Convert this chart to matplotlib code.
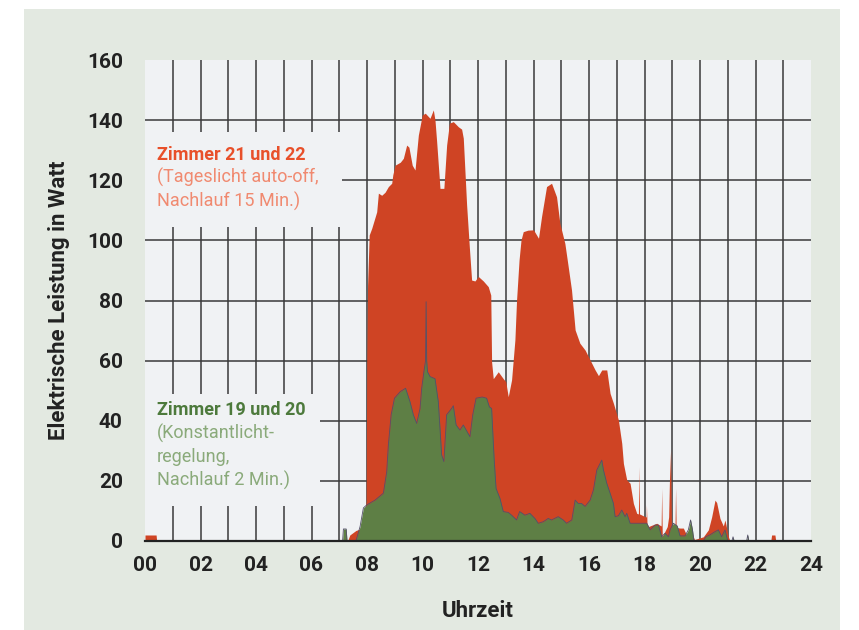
import matplotlib.pyplot as plt
from matplotlib.patches import Rectangle

# Zimmer 21 und 22 (Tageslicht auto-off, Nachlauf 15 Min.)
red_h = [0.0, 0.4, 0.42, 7.3, 7.38, 7.6, 7.75, 7.87, 7.97, 7.99, 8.02, 8.08, 8.17,
         8.35, 8.41, 8.53, 8.65, 8.77, 8.89, 8.93, 9.01, 9.2, 9.31, 9.43, 9.51, 9.63,
         9.73, 9.85, 9.99, 10.1, 10.27, 10.39, 10.45, 10.51, 10.63, 10.77, 10.87, 10.97,
         11.11, 11.29, 11.41, 11.47, 11.59, 11.69, 11.77, 11.89, 12.01, 12.19, 12.37,
         12.46, 12.49, 12.55, 12.73, 12.91, 13.0, 13.09, 13.21, 13.33, 13.39, 13.48,
         13.55, 13.63, 13.8, 14.0, 14.18, 14.29, 14.47, 14.65, 14.83, 14.95, 15.13,
         15.25, 15.37, 15.5, 15.67, 15.86, 16.04, 16.22, 16.34, 16.46, 16.64, 16.76,
         16.88, 17.06, 17.18, 17.24, 17.36, 17.48, 17.6, 17.72, 17.78, 17.8, 17.82,
         18.02, 18.06, 18.07, 18.09, 18.14, 18.44, 18.6, 18.62, 18.64, 18.82, 18.87,
         18.9, 18.94, 18.97, 19.08, 19.1, 19.12, 19.14, 19.28, 19.4, 19.5, 19.7, 19.8,
         20.12, 20.3, 20.42, 20.54, 20.6, 20.72, 20.84, 20.9, 21.02, 21.08, 22.55,
         22.58, 22.7, 22.73, 24.0]
red_w = [2, 2, 0, 0, 2, 3.5, 4, 8, 13, 60, 85, 101.8, 104,
         109.5, 115.7, 115, 116, 117.9, 119, 121.8, 125, 126, 127.3, 131.7, 131, 125,
         123.4, 135, 141.7, 142.3, 140.6, 143.4, 140, 132.9, 117.3, 117.3, 131.7, 139,
         139.5, 137.8, 137, 134, 111.8, 97.5, 86.8, 86.5, 88, 86.5, 84.6,
         81.8, 59.6, 54, 56.3, 54, 53, 48, 53.6, 66.9, 80.2, 93.5,
         100.1, 102.9, 103.4, 103.5, 100.7, 107.9, 117.9, 119, 114.5, 105.7, 99,
         91.3, 83.5, 70.2, 65.8, 63.5, 60.2, 56.9, 55, 56.9, 56.9, 49.1,
         45.8, 40.2, 32.5, 25.8, 20.3, 19.2, 12.5, 9.2, 9, 24.7, 9,
         8.1, 8, 12, 6, 4.8, 5.9, 5, 17.5, 1.4, 4.8, 8,
         20.3, 30.3, 5, 4.8, 5, 17.6, 4.5, 4.3, 4.3, 2.3, 3, 0.5,
         1.4, 3.7, 8, 13.6, 12.8, 7.5, 5, 7, 1.5, 0, 0,
         2, 2, 0, 0]

# Zimmer 19 und 20 (Konstantlichtregelung, Nachlauf 2 Min.)
green_h = [0.0, 7.12, 7.15, 7.25, 7.28, 7.6, 7.75, 7.87, 7.99, 8.29, 8.59, 8.71, 8.77,
           8.87, 8.99, 9.2, 9.39, 9.55, 9.67, 9.79, 9.91, 9.97, 10.05, 10.11, 10.13,
           10.15, 10.18, 10.27, 10.45, 10.57, 10.69, 10.77, 10.87, 11.05, 11.11, 11.21,
           11.35, 11.47, 11.71, 11.81, 11.93, 12.15, 12.31, 12.41, 12.49, 12.58, 12.65,
           12.79, 12.91, 13.09, 13.21, 13.39, 13.5, 13.69, 13.87, 14.05, 14.17, 14.35,
           14.53, 14.65, 14.89, 15.07, 15.19, 15.38, 15.5, 15.61, 15.73, 15.86, 16.04,
           16.16, 16.28, 16.4, 16.46, 16.52, 16.64, 16.76, 16.88, 16.94, 17.06, 17.18,
           17.3, 17.36, 17.48, 17.78, 18.08, 18.2, 18.38, 18.5, 18.62, 18.74, 18.86,
           18.92, 19.04, 19.18, 19.28, 19.46, 19.58, 19.66, 19.73, 19.78, 20.12, 20.21,
           20.35, 20.54, 20.66, 20.78, 20.9, 21.0, 21.15, 21.19, 21.23, 21.68, 21.72,
           21.76, 24.0]
green_w = [0, 0, 4, 4, 0, 0, 4.8, 11, 12, 13.6, 15.9, 23, 32,
           42, 47.5, 49.7, 50.8, 46.3, 42, 39.1, 44, 50.8, 56.3, 60, 79.6,
           60, 56.3, 54.7, 54, 46.3, 28.6, 26.4, 42, 44.1, 45, 38.6,
           36.9, 38.6, 34.7, 42, 47.5, 47.9, 47.5, 44.6, 44.1, 27.5, 17.5,
           14.2, 9.8, 9.5, 8.6, 7, 9.8, 8.6, 9.2, 7.5, 5.9, 6.4,
           7.5, 7, 8.1, 7, 5.9, 7, 13.6, 12.5, 12.5, 11.5, 13.6,
           17, 23.6, 25.8, 26.9, 23.6, 19.2, 15.9, 12.5, 8.1, 8.4, 10.3,
           8.1, 9.2, 5.9, 5.9, 5.9, 3.7, 5.3, 5.3, 1.4, 2.6, 1.4,
           3.7, 5.9, 5, 1.7, 1.7, 3.7, 7, 3.7, 0, 0, 1.4,
           2, 3.1, 3.7, 1.4, 3.7, 0, 0, 1.4, 0, 0, 2,
           0, 0]

hour_ticks = list(range(0, 25, 2))
hour_labels = ['%02d' % h for h in hour_ticks]
watt_ticks = list(range(0, 161, 20))

bg_fig = '#e3e9e1'
bg_ax = '#f0f2f4'
red = '#cf4424'
green = '#5e7f45'

plt.rcParams['font.family'] = ['Roboto', 'DejaVu Sans']

fig = plt.figure(figsize=(8.59, 6.3), dpi=100)
fig.patch.set_facecolor('white')
fig.patches.append(Rectangle((24 / 859, 0), (840 - 24) / 859, 1 - 9 / 630,
                             transform=fig.transFigure, facecolor=bg_fig,
                             edgecolor='none', zorder=-10))

ax = fig.add_axes([145 / 859, 1 - 541 / 630, 666 / 859, 481 / 630])
ax.set_facecolor(bg_ax)

ax.fill_between(red_h, red_w, 0, color=red, linewidth=0, zorder=3)
ax.fill_between(green_h, green_w, 0, color=green, linewidth=0, zorder=4)
ax.plot(green_h, green_w, color='#55506a', linewidth=0.6, zorder=5)

ax.set_xlim(0, 24)
ax.set_ylim(0, 160)

# grid: every hour, every 20 W
for h in range(1, 24):
    ax.axvline(h, color='#3a3a3a', linewidth=1.1, zorder=1)
for w in range(20, 160, 20):
    ax.axhline(w, color='#3a3a3a', linewidth=1.1, zorder=1)

# label boxes hide the grid underneath
ax.add_patch(Rectangle((0, 104.5), 7.1, 31.5, facecolor=bg_ax, edgecolor='none', zorder=2))
ax.add_patch(Rectangle((0, 11.6), 6.3, 37.3, facecolor=bg_ax, edgecolor='none', zorder=2))

fs = 13
ax.text(0.43, 128.4, 'Zimmer 21 und 22', color='#e8502a', fontsize=fs,
        fontweight='bold', va='center', zorder=6)
ax.text(0.43, 120.8, '(Tageslicht auto-off,', color='#f08a70', fontsize=fs,
        va='center', zorder=6)
ax.text(0.43, 113.1, 'Nachlauf 15 Min.)', color='#f08a70', fontsize=fs,
        va='center', zorder=6)

ax.text(0.43, 43.6, 'Zimmer 19 und 20', color='#4d7a3c', fontsize=fs,
        fontweight='bold', va='center', zorder=6)
ax.text(0.43, 35.9, '(Konstantlicht-', color='#8aaa7a', fontsize=fs,
        va='center', zorder=6)
ax.text(0.43, 27.9, 'regelung,', color='#8aaa7a', fontsize=fs,
        va='center', zorder=6)
ax.text(0.43, 20.0, 'Nachlauf 2 Min.)', color='#8aaa7a', fontsize=fs,
        va='center', zorder=6)

for s in ['left', 'right', 'top']:
    ax.spines[s].set_visible(False)
ax.spines['bottom'].set_color('#222222')
ax.spines['bottom'].set_linewidth(1.6)
ax.spines['bottom'].set_zorder(7)

ax.set_xticks(hour_ticks)
ax.set_xticklabels(hour_labels)
ax.set_yticks(watt_ticks)
ax.tick_params(length=0, labelsize=15, colors='#222222')
ax.tick_params(axis='y', pad=16)
ax.tick_params(axis='x', pad=11)
for lab in ax.get_xticklabels() + ax.get_yticklabels():
    lab.set_fontweight('bold')

ax.set_xlabel('Uhrzeit', fontsize=16, fontweight='bold', color='#222222')
ax.set_ylabel('Elektrische Leistung in Watt', fontsize=16, fontweight='bold', color='#222222')
ax.xaxis.set_label_coords(0.5, -0.123)
ax.yaxis.set_label_coords(-0.112, 0.5)

plt.savefig('out.png', dpi=100, facecolor=fig.get_facecolor())
